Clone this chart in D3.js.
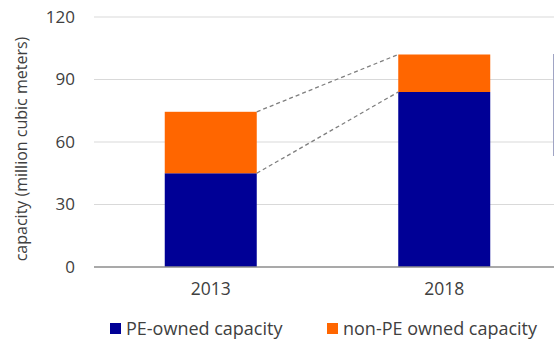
<!DOCTYPE html>
<html><head><meta charset="utf-8">
<script src="https://cdn.jsdelivr.net/npm/d3@7"></script>
<style>body{margin:0;background:#fff;} text{font-family:"Open Sans","Noto Sans",sans-serif;fill:#404040;}</style>
</head><body>
<svg id="c" width="554" height="347"></svg>
<script>
const categories = ["2013", "2018"];
const peOwned = [45, 84];
const nonPeOwned = [29.5, 18];
const yTicks = [0, 30, 60, 90, 120];
const seriesNames = ["PE-owned capacity", "non-PE owned capacity"];
const colors = ["#000096", "#FF6600"];

const svg = d3.select("#c");
const x = d3.scaleBand().domain(categories).range([94, 561]).paddingInner(0.606).paddingOuter(0.303);
const y = d3.scaleLinear().domain([0, 120]).range([267, 17]);

// gridlines
svg.append("g").selectAll("line").data(yTicks.filter(d => d > 0)).join("line")
  .attr("x1", 94).attr("x2", 554).attr("y1", d => y(d)).attr("y2", d => y(d))
  .attr("stroke", "#d9d9d9").attr("stroke-width", 1);

// y tick labels
svg.append("g").selectAll("text").data(yTicks).join("text")
  .attr("x", 75).attr("y", d => y(d)).attr("dy", "0.35em")
  .attr("text-anchor", "end").attr("font-size", 17).text(d => d);

// y title
svg.append("text").attr("transform", `translate(21,149) rotate(-90)`)
  .attr("text-anchor", "middle").attr("dy", "0.35em").attr("font-size", 16)
  .text("capacity (million cubic meters)");

const stackData = categories.map((c, i) => ({cat: c, pe: peOwned[i], non: nonPeOwned[i]}));
const stack = d3.stack().keys(["pe", "non"])(stackData);

svg.append("g").selectAll("g").data(stack).join("g")
  .attr("fill", (d, i) => colors[i])
  .selectAll("rect").data(d => d).join("rect")
  .attr("x", d => x(d.data.cat)).attr("width", x.bandwidth())
  .attr("y", d => y(d[1])).attr("height", d => y(d[0]) - y(d[1]));

// connector dashed lines
stack.forEach(s => {
  svg.append("line")
    .attr("x1", x(categories[0]) + x.bandwidth()).attr("y1", y(s[0][1]))
    .attr("x2", x(categories[1])).attr("y2", y(s[1][1]))
    .attr("stroke", "#7f7f7f").attr("stroke-width", 1.3).attr("stroke-dasharray", "4,3");
});

// baseline
svg.append("line").attr("x1", 94).attr("x2", 554).attr("y1", y(0)).attr("y2", y(0))
  .attr("stroke", "#8c8c8c").attr("stroke-width", 1.5);

// partial element at right edge
svg.append("line").attr("x1", 553.5).attr("x2", 553.5).attr("y1", 54).attr("y2", 156)
  .attr("stroke", "#a0a4c4").attr("stroke-width", 1);

// x labels
svg.append("g").selectAll("text").data(categories).join("text")
  .attr("x", d => x(d) + x.bandwidth() / 2).attr("y", 289).attr("dy", "0.35em")
  .attr("text-anchor", "middle").attr("font-size", 17.5).text(d => d);

// legend
const legX = [110, 327];
const leg = svg.append("g").selectAll("g").data(seriesNames).join("g")
  .attr("transform", (d, i) => `translate(${legX[i]},323)`);
leg.append("rect").attr("width", 11).attr("height", 11).attr("fill", (d, i) => colors[i]);
leg.append("text").attr("x", 16).attr("y", 5.5).attr("dy", "0.35em").attr("font-size", 18).text(d => d);
</script>
</body></html>
